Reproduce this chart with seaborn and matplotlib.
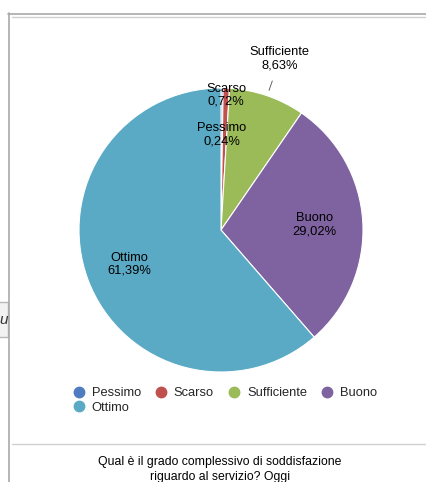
import matplotlib
matplotlib.use("Agg")
import matplotlib.pyplot as plt
from matplotlib.lines import Line2D
from matplotlib.patches import Rectangle
import numpy as np
import seaborn as sns

# Survey answers, in drawing order (clockwise from 12 o'clock)
categories = ["Pessimo", "Scarso", "Sufficiente", "Buono", "Ottimo"]
shares = [0.24, 0.72, 8.63, 29.02, 61.39]
shares_text = ["0,24%", "0,72%", "8,63%", "29,02%", "61,39%"]
palette = ["#4f7cc0", "#c0504d", "#9bbb59", "#7f63a1", "#5aaac5"]
title_lines = ["Qual è il grado complessivo di soddisfazione", "riguardo al servizio? Oggi"]

sns.set_theme(style="white")
plt.rcParams["font.family"] = ["Liberation Sans", "DejaVu Sans"]

W, H = 427, 482
fig = plt.figure(figsize=(W / 100, H / 100), dpi=100)
fig.patch.set_facecolor("white")


def fx(px):
    return px / W


def fy(py):
    return 1 - py / H


# Page frame around the widget
grey_dark = "#a9a9a9"
grey_light = "#d0d0d0"
fig.add_artist(Line2D([fx(8.5), fx(8.5)], [fy(13), fy(482)], color=grey_dark, lw=1.2))
fig.add_artist(Line2D([fx(8), fx(427)], [fy(13.5), fy(13.5)], color=grey_dark, lw=1.2))
fig.add_artist(Line2D([fx(12), fx(427)], [fy(16.5), fy(16.5)], color=grey_light, lw=1.0))
fig.add_artist(Line2D([fx(12), fx(427)], [fy(444), fy(444)], color=grey_light, lw=1.0))

# Neighbouring control peeking in from the left
fig.add_artist(Rectangle((fx(-2), fy(337)), fx(10), fy(302) - fy(337),
                         facecolor="#f2f2f2", edgecolor="#b8b8b8", lw=1.0))
fig.text(fx(-1), fy(320), "u", fontsize=11, style="italic", color="#333333",
         ha="left", va="center")

# Pie
cx, cy, r = 221, 230, 142
ax = fig.add_axes([fx(cx - r), fy(cy + r), fx(2 * r), fy(cy - r) - fy(cy + r)])
wedges, _ = ax.pie(shares, colors=palette, startangle=90, counterclock=False,
                   radius=1.0, wedgeprops=dict(edgecolor="white", linewidth=0.8))
ax.set_xlim(-1, 1)
ax.set_ylim(-1, 1)
ax.set_aspect("equal")
ax.axis("off")

# Slice labels placed along each wedge's mid-angle
label_radius = [0.67, 0.95, 1.275, 0.66, 0.69]
fsz = 9.3
ink = "#000000"
for w, name, txt, lr in zip(wedges, categories, shares_text, label_radius):
    mid = np.deg2rad((w.theta1 + w.theta2) / 2)
    x, y = lr * np.cos(mid), lr * np.sin(mid)
    ax.text(x, y, f"{name}\n{txt}", ha="center", va="center", fontsize=fsz,
            color=ink, linespacing=1.15, clip_on=False)
    if lr > 1:
        ax.plot([1.04 * np.cos(mid), 1.11 * np.cos(mid)],
                [1.04 * np.sin(mid), 1.11 * np.sin(mid)],
                color="#666666", lw=0.7, clip_on=False)

# Legend: Ottimo wraps to a second row under Pessimo
order = [0, 4, 1, 2, 3]
handles = [Line2D([], [], marker="o", linestyle="none", markersize=7.5,
                  markerfacecolor=palette[i], markeredgecolor=palette[i]) for i in order]
labels = [categories[i] for i in order]
fig.legend(handles, labels, ncol=4, loc="upper left",
           bbox_to_anchor=(fx(73), fy(387)), frameon=False, fontsize=fsz,
           handlelength=0.9, handletextpad=0.55, columnspacing=1.1,
           labelspacing=0.2, borderaxespad=0, borderpad=0)

# Chart caption
fig.text(fx(220), fy(462), title_lines[0], ha="center", va="center", fontsize=8.8, color=ink)
fig.text(fx(220), fy(477), title_lines[1], ha="center", va="center", fontsize=8.8, color=ink)

fig.savefig("out.png", dpi=100)
